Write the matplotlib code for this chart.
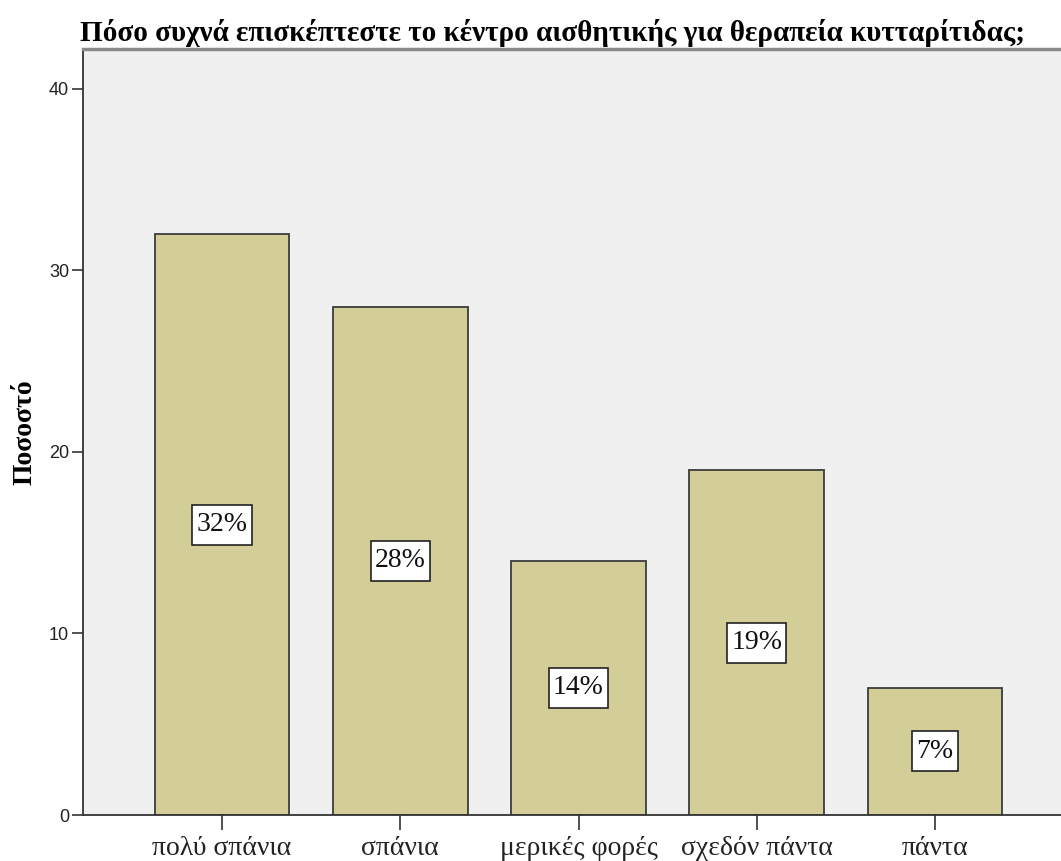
import matplotlib
matplotlib.use("Agg")
import matplotlib.pyplot as plt
from matplotlib.path import Path

categories = ["πολύ σπάνια", "σπάνια", "μερικές φορές", "σχεδόν πάντα", "πάντα"]
percentages = [32, 28, 14, 19, 7]
yticks = [0, 10, 20, 30, 40]
title = "Πόσο συχνά επισκέπτεστε το κέντρο αισθητικής για θεραπεία κυτταρίτιδας;"
ylabel = "Ποσοστό"

bar_color = "#D3CE97"
face_color = "#F0F0F0"
edge_color = "#3C3C3C"


def label_box(x0, y0, width, height, mutation_size):
    """Rectangle with a little more room above and below the text than at the sides."""
    px = 0.15 * mutation_size
    py = 0.27 * mutation_size
    x0, y0 = x0 - px, y0 - py
    x1, y1 = x0 + width + 2 * px, y0 + height + 2 * py
    return Path([(x0, y0), (x1, y0), (x1, y1), (x0, y1), (x0, y0)], closed=True)


fig = plt.figure(figsize=(10.61, 8.61), dpi=100)
ax = fig.add_axes([83 / 1061, 1 - 815 / 861, 1 - 83 / 1061, (815 - 49) / 861])
ax.set_facecolor(face_color)

x = list(range(len(categories)))
ax.bar(x, percentages, width=0.757, color=bar_color, edgecolor=edge_color,
       linewidth=1.3, zorder=2)

for xi, v in zip(x, percentages):
    ax.text(xi, v / 2, f"{v}%", ha="center", va="center", fontsize=20,
            family="Liberation Serif", color="#111111", zorder=3,
            bbox=dict(boxstyle=label_box, facecolor="white",
                      edgecolor="#222222", linewidth=1.2))

ax.set_xlim(-0.78, 4.707)
ax.set_ylim(0, 42.2)
ax.set_xticks(x)
ax.set_xticklabels(categories, fontsize=20, family="Liberation Serif", color="#222222")
ax.set_yticks(yticks)
ax.set_yticklabels([str(t) for t in yticks], fontsize=13, family="Liberation Sans",
                   color="#222222")
ax.tick_params(axis="x", length=11, width=1.2, color="#333333", pad=4)
ax.tick_params(axis="y", length=8, width=1.2, color="#333333", pad=2)

for side in ["left", "bottom"]:
    ax.spines[side].set_color("#333333")
    ax.spines[side].set_linewidth(1.3)
ax.spines["top"].set_color("#8A8A8A")
ax.spines["top"].set_linewidth(2.5)
ax.spines["right"].set_visible(False)

ax.set_ylabel(ylabel, fontsize=20, fontweight="bold", family="Liberation Serif",
              labelpad=8)
fig.text(80 / 1061, 1 - 33 / 861, title, fontsize=21, fontweight="bold",
         family="Liberation Serif", ha="left", va="center")

fig.savefig("out.png", dpi=100, facecolor="white")
